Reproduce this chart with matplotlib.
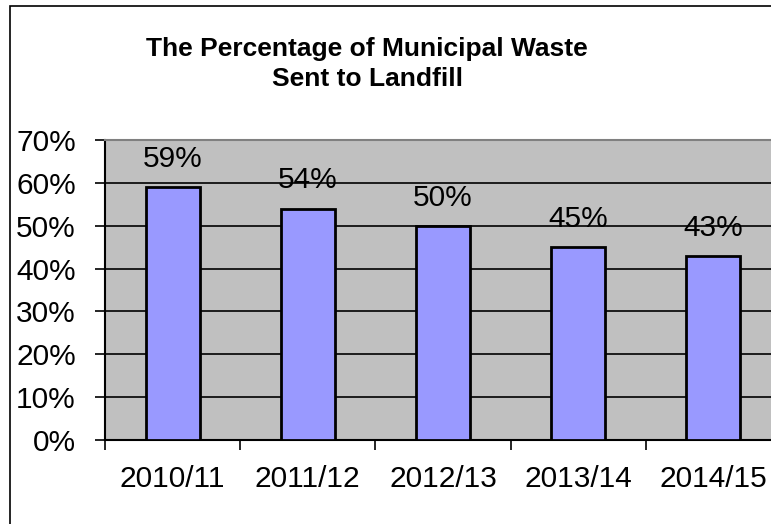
import matplotlib.pyplot as plt
from matplotlib.patches import Rectangle
from matplotlib.ticker import FuncFormatter

plt.rcParams['font.family'] = ['Liberation Sans', 'DejaVu Sans']

# share of municipal waste going to landfill, per year
years = ['2010/11', '2011/12', '2012/13', '2013/14', '2014/15']
landfill_pct = [59, 54, 50, 45, 43]

fig = plt.figure(figsize=(7.71, 5.24), dpi=100)

# chart border (runs off the right and bottom of the image)
fig.patches.append(Rectangle((10/771, -0.05), 1.2, 1 - 6/524 + 0.05,
                             transform=fig.transFigure, fill=False,
                             edgecolor='black', linewidth=1.2))

ax = fig.add_axes([105/771, 84/524, 676/771, 300/524])
ax.set_facecolor('#c0c0c0')

x = range(len(years))
ax.bar(x, landfill_pct, width=0.4, color='#9999ff', edgecolor='black',
       linewidth=2, zorder=3)

for i, v in enumerate(landfill_pct):
    ax.annotate(f'{v}%', (i, v), xytext=(0, 14.5), textcoords='offset points',
                ha='center', va='baseline', fontsize=21.5, zorder=4)

ax.set_ylim(0, 70)
ax.set_yticks(range(0, 71, 10))
ax.yaxis.set_major_formatter(FuncFormatter(lambda v, p: f'{v:.0f}%'))
ax.set_xlim(-0.5, len(years) - 0.5)
ax.set_xticks(list(x))
ax.set_xticklabels(years)
ax.set_xticks([i + 0.5 for i in range(-1, len(years))], minor=True)

ax.grid(axis='y', color='black', linewidth=1.2, zorder=1)
ax.set_axisbelow(True)

ax.tick_params(axis='y', length=7, width=1.2, pad=14, labelsize=21.5)
ax.tick_params(axis='x', which='major', length=0, pad=18, labelsize=21.5)
ax.tick_params(axis='x', which='minor', length=7, width=1.2)

for side in ['left', 'bottom']:
    ax.spines[side].set_color('black')
    ax.spines[side].set_linewidth(1.5)
ax.spines['top'].set_color('#808080')
ax.spines['top'].set_linewidth(1.5)
ax.spines['right'].set_visible(False)

fig.text(367/771, 1 - 64/524, 'The Percentage of Municipal Waste\nSent to Landfill',
         ha='center', va='center', fontsize=19, fontweight='bold',
         linespacing=1.3)

fig.savefig('out.png', dpi=100)
